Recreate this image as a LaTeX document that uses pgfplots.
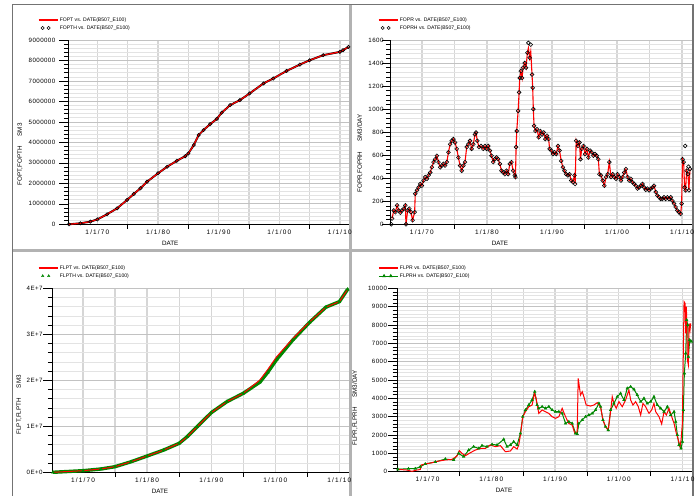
\documentclass[border=0pt]{standalone}
\usepackage{fontspec}
\setmainfont{Liberation Sans}
\newfontfamily\ytf[LetterSpace=7]{Liberation Sans}
\newfontfamily\xtf[LetterSpace=18]{Liberation Sans}
\usepackage{pgfplots}
\pgfplotsset{compat=1.18}
\usepackage{pgfplotstable}
\definecolor{hred}{RGB}{255,0,0}
\definecolor{hgreen}{RGB}{0,135,0}

\pgfplotstableread{
year fopt
1965.30 0
1967.20 50000
1968.85 130000
1970.00 240000
1971.60 490000
1973.25 780000
1974.90 1190000
1976.00 1480000
1977.10 1760000
1978.20 2080000
1980.00 2490000
1981.50 2810000
1983.10 3100000
1984.50 3330000
1985.00 3460000
1985.90 3870000
1986.70 4360000
1987.50 4600000
1988.60 4890000
1989.70 5150000
1990.50 5450000
1991.90 5820000
1993.50 6060000
1995.10 6390000
1997.40 6880000
1999.00 7120000
2001.20 7490000
2003.40 7800000
2005.00 8010000
2007.25 8260000
2010.00 8420000
2010.50 8500000
2011.40 8660000
}\tltab

\pgfplotstableread{
year fopr foprh
1965.30 nan 0
1965.41 50 50
1965.67 120 120
1965.92 105 105
1966.18 165 165
1966.43 120 120
1966.69 100 100
1966.94 120 120
1967.20 135 135
1967.45 165 165
1967.55 0 0
1967.81 120 120
1968.06 135 135
1968.32 105 105
1968.57 35 35
1968.88 105 105
1968.98 265 265
1969.24 295 295
1969.49 320 320
1969.75 350 350
1970.00 335 335
1970.26 380 380
1970.51 410 410
1970.77 395 395
1971.02 425 425
1971.28 450 450
1971.53 495 495
1971.79 540 540
1972.04 565 565
1972.30 595 595
1972.55 540 540
1972.81 495 495
1973.06 510 510
1973.32 525 525
1973.57 510 510
1973.83 540 540
1974.08 625 625
1974.34 695 695
1974.59 725 725
1974.85 740 740
1975.10 710 710
1975.36 655 655
1975.61 580 580
1975.87 510 510
1976.12 465 465
1976.38 510 510
1976.63 540 540
1976.89 670 670
1977.14 695 695
1977.40 725 725
1977.65 655 655
1977.91 695 695
1978.16 780 780
1978.32 797 797
1978.52 725 725
1978.78 670 670
1979.08 680 680
1979.44 655 655
1979.69 680 680
1979.95 655 655
1980.20 680 680
1980.46 640 640
1980.71 595 595
1980.97 540 540
1981.22 565 565
1981.48 580 580
1981.73 565 565
1981.99 525 525
1982.24 465 465
1982.50 450 450
1982.76 435 435
1983.01 465 465
1983.27 435 435
1983.52 525 525
1983.78 540 540
1984.03 465 465
1984.29 425 425
1984.39 410 410
1984.49 670 670
1984.59 810 810
1984.80 985 985
1984.95 1145 1145
1985.05 1270 1270
1985.21 1330 1330
1985.41 1270 1270
1985.56 1360 1360
1985.82 1400 1400
1986.02 1360 1360
1986.23 1490 1490
1986.38 1530 1575
1986.58 1445 1445
1986.74 1500 1560
1986.94 1300 1300
1987.04 1185 1185
1987.14 1000 1000
1987.25 855 855
1987.45 810 810
1987.71 825 825
1987.96 755 755
1988.22 810 810
1988.47 780 780
1988.73 797 797
1988.98 740 740
1989.24 770 770
1989.49 740 740
1989.65 655 655
1989.90 640 640
1990.16 610 610
1990.41 625 625
1990.67 610 610
1990.92 680 680
1991.17 640 640
1991.43 550 550
1991.68 495 495
1991.94 465 465
1992.19 435 435
1992.45 425 425
1992.71 435 435
1992.96 380 380
1993.22 365 365
1993.47 425 425
1993.57 350 350
1993.73 725 725
1993.98 680 680
1994.24 710 710
1994.39 565 565
1994.59 655 655
1994.85 680 680
1995.10 610 610
1995.36 655 655
1995.61 580 580
1995.87 640 640
1996.12 625 625
1996.38 595 595
1996.63 610 610
1996.89 595 595
1997.14 565 565
1997.30 435 435
1997.55 425 425
1997.81 380 380
1998.06 335 335
1998.32 410 410
1998.57 435 435
1998.83 540 540
1999.08 410 410
1999.34 435 435
1999.59 410 410
1999.85 395 395
2000.10 435 435
2000.36 410 410
2000.61 380 380
2000.87 410 410
2001.12 450 450
2001.38 480 480
2001.63 410 410
2001.89 380 380
2002.14 395 395
2002.40 365 365
2002.65 350 350
2002.91 335 335
2003.16 310 310
2003.42 320 320
2003.67 335 335
2003.93 350 350
2004.18 320 320
2004.44 300 300
2004.69 310 310
2004.95 295 295
2005.20 310 310
2005.46 320 320
2005.71 335 335
2005.97 280 280
2006.22 250 250
2006.48 235 235
2006.73 220 220
2006.99 220 220
2007.24 235 235
2007.50 220 220
2007.76 235 235
2008.01 220 220
2008.27 235 235
2008.52 205 205
2008.78 180 180
2009.03 150 150
2009.29 120 120
2009.54 105 105
2009.80 90 90
2009.95 180 180
2010.10 565 565
2010.26 540 540
2010.41 320 320
2010.50 nan 680
2010.56 295 295
2010.72 465 465
2010.92 435 435
2011.00 nan 500
2011.07 295 295
2011.23 480 480
}\trtab

\pgfplotstableread{
year flpt flpth
1965.30 0 0
1970.00 350000 350000
1972.80 720000 720000
1975.00 1220000 1220000
1977.50 2300000 2300000
1980.00 3540000 3540000
1982.60 4850000 4850000
1985.00 6300000 6300000
1986.25 7740000 7740000
1987.80 9900000 9900000
1990.00 12960000 12960000
1992.45 15350000 15350000
1995.00 17170000 17170000
1997.60 20070000 19600000
1998.80 22300000 21700000
2000.20 25100000 24500000
2002.75 29100000 28800000
2005.35 32700000 32600000
2007.90 35900000 35900000
2010.00 37100000 37100000
2011.30 39800000 39800000
}\bltab

\pgfplotstableread{
year flpr
1965.34 130
1966.75 90
1967.54 20
1968.32 90
1968.85 120
1969.00 365
1969.63 420
1970.68 490
1971.73 580
1972.78 640
1973.83 670
1974.61 855
1974.98 1150
1975.40 1000
1975.92 870
1976.71 1035
1977.49 1180
1978.28 1270
1979.07 1270
1979.85 1455
1980.64 1365
1981.43 1420
1982.21 1090
1983.00 1130
1983.52 1365
1984.05 1235
1984.31 1455
1984.57 2000
1984.94 3000
1985.36 3270
1985.88 3545
1986.40 3635
1986.77 4270
1987.03 4000
1987.45 3180
1987.98 3365
1988.50 3270
1989.03 3180
1989.55 2995
1990.07 2910
1990.60 3000
1991.12 3455
1991.65 3000
1992.17 2635
1992.69 2545
1993.11 2090
1993.48 2180
1993.64 5090
1994.00 4180
1994.27 4360
1994.53 4090
1994.89 3635
1995.58 3580
1996.10 3635
1996.63 3765
1997.15 3545
1997.52 2820
1997.93 2455
1998.35 2270
1998.72 3270
1998.98 4090
1999.24 3725
1999.61 3455
2000.03 3820
2000.55 3545
2001.08 3910
2001.60 4455
2001.87 3910
2002.23 3635
2002.65 3820
2003.07 3545
2003.44 3090
2003.80 3725
2004.22 3545
2004.75 3180
2005.17 3365
2005.53 3725
2005.80 3270
2006.32 3000
2006.74 2600
2007.11 3270
2007.47 3090
2007.89 3455
2008.31 3000
2008.68 2635
2009.04 2090
2009.36 1725
2009.62 1365
2009.78 1725
2009.99 2635
2010.09 5365
2010.25 9270
2010.41 9180
2010.51 7545
2010.62 9000
2010.77 6090
2010.93 5820
2011.04 8090
2011.19 7725
2011.30 8090
}\brtab

\pgfplotstableread{
year flprh
1965.34 130
1967.01 165
1968.06 165
1968.85 270
1969.63 420
1971.21 530
1972.78 690
1974.09 640
1974.87 1000
1975.66 820
1976.45 1180
1977.23 1365
1978.02 1270
1978.54 1420
1979.33 1365
1980.12 1490
1980.90 1455
1981.95 1765
1982.47 1365
1983.00 1455
1983.52 1635
1984.05 1455
1984.57 2090
1984.94 3000
1985.36 3365
1985.88 3635
1986.40 3910
1986.82 4360
1987.19 3635
1987.45 3455
1987.98 3545
1988.50 3455
1989.03 3545
1989.55 3365
1990.07 3270
1990.60 3270
1991.12 3180
1991.65 2635
1992.17 2725
1992.69 2635
1993.22 2090
1993.48 2055
1993.74 2635
1994.27 2820
1994.79 3000
1995.31 3090
1995.84 3180
1996.36 3365
1996.89 3725
1997.15 3545
1997.52 2820
1997.93 2455
1998.35 2270
1998.72 3365
1999.24 3725
1999.77 4090
2000.29 4270
2000.82 3910
2001.34 4545
2001.87 4635
2002.39 4490
2002.91 4180
2003.44 3820
2003.96 4000
2004.48 3725
2005.01 3820
2005.53 4090
2006.06 3635
2006.58 3455
2007.11 3270
2007.63 3545
2008.15 3090
2008.68 3270
2008.94 2725
2009.20 2000
2009.46 1455
2009.78 1270
2009.99 1635
2010.14 3365
2010.30 5365
2010.51 6455
2010.67 8270
2010.83 8000
2010.93 6270
2011.14 7180
2011.40 7090
}\brhtab

\pgfplotsset{
  panel/.style={
    scale only axis,
    clip=false,
    scaled x ticks=false,
    scaled y ticks=false,
    axis x line*=bottom,
    axis y line*=left,
    axis line style={black, line width=0.8bp, -},
    xmin=1965.2, xmax=2011.5,
    xtick={1970,1980,1990,2000,2010},
    xticklabels={1/1/70,1/1/80,1/1/90,1/1/00,1/1/10},
    minor xtick={1975,1985,1995,2005},
    minor y tick num=4,
    grid=both,
    major x grid style={black!16, line width=1.3bp},
    minor x grid style={black!16, line width=1.3bp},
    major y grid style={black!24, line width=0.7bp},
    minor y grid style={black!11, line width=0.7bp},
    tick align=outside,
    major tick length=9bp,
    minor tick length=4.5bp,
    every tick/.style={black, line width=0.6bp},
    every major x tick/.append style={draw=none},
    /pgf/number format/assume math mode=true,
    xticklabel style={font=\xtf\fontsize{6.5}{7}\selectfont, inner sep=1bp, yshift=5bp},
    yticklabel style={font=\ytf\fontsize{6.2}{7}\selectfont, inner sep=1.5bp},
    xlabel=DATE,
    xlabel style={font=\fontsize{6.5}{7}\selectfont, anchor=center, at={(axis description cs:0.363,-0.101)}},
    label style={font=\fontsize{6.3}{7}\selectfont},
    legend cell align=left,
    legend style={draw=none, fill=none, inner sep=0pt, outer sep=0pt, anchor=west,
      font=\fontsize{5.1}{6}\selectfont,
      nodes={inner sep=0.5bp, text height=3.7bp, text depth=0.3bp},
      /tikz/row sep=3bp, /tikz/column sep=1bp},
  },
}

\begin{document}
\begin{tikzpicture}
\path[use as bounding box] (0,0) rectangle (699bp,496bp);
\fill[white] (0,0) rectangle (699bp,496bp);
\draw[black!30, line width=3bp] (350.5bp,0bp) -- (350.5bp,491.7bp);
\draw[black!30, line width=3bp] (12.3bp,245bp) -- (693bp,245bp);
\draw[black!55, line width=1.2bp] (12.3bp,0bp) -- (12.3bp,491.7bp) -- (693bp,491.7bp) -- (693bp,0bp);

% ---------------- top left
\begin{axis}[panel, at={(68.3bp,271.7bp)}, anchor=south west,
  width=280.7bp, height=184.3bp,
  ymin=0, ymax=9000000,
  ytick={0,1000000,2000000,3000000,4000000,5000000,6000000,7000000,8000000,9000000},
  yticklabels={0,1000000,2000000,3000000,4000000,5000000,6000000,7000000,8000000,9000000},
  yticklabel style={xshift=-2.3bp},
  ylabel={FOPT,FOPTH\hspace{10bp}SM3},
  ylabel style={at={(axis description cs:-0.172,0.379)}, anchor=center},
  legend style={at={(axis description cs:-0.108,1.087)}},
]
\addplot[black, line width=1.9bp, mark=o, mark size=1.7bp, mark options={line width=0.55bp, solid}, forget plot] table[x=year, y=fopt] {\tltab};
\addplot[hred, line width=1.2bp, forget plot] table[x=year, y=fopt] {\tltab};
\addlegendimage{legend image code/.code={\draw[hred, line width=1.3bp] (0bp,0bp) -- (19bp,0bp);}}
\addlegendentry{FOPT vs. DATE(B507\_E100)}
\addlegendimage{legend image code/.code={\draw[black, line width=0.55bp] (4bp,0bp) circle (1.6bp) (10bp,0bp) circle (1.6bp);}}
\addlegendentry{FOPTH vs. DATE(B507\_E100)}
\end{axis}

% ---------------- top right
\begin{axis}[panel, at={(390.7bp,271.7bp)}, anchor=south west,
  width=301bp, height=184.3bp,
  ymin=0, ymax=1600,
  ytick={0,200,400,600,800,1000,1200,1400,1600},
  yticklabels={0,200,400,600,800,1000,1200,1400,1600},
  yticklabel style={xshift=3.5bp},
  ylabel={FOPR,FOPRH\hspace{10bp}SM3/DAY},
  ylabel style={at={(axis description cs:-0.102,0.384)}, anchor=center},
  legend style={at={(axis description cs:-0.042,1.087)}},
]
\addplot[black, only marks, mark=o, mark size=1.9bp, mark options={line width=0.6bp}, forget plot] table[x=year, y=foprh] {\trtab};
\addplot[hred, line width=1.1bp, forget plot] table[x=year, y=fopr] {\trtab};
\addlegendimage{legend image code/.code={\draw[hred, line width=1.3bp] (0bp,0bp) -- (19bp,0bp);}}
\addlegendentry{FOPR vs. DATE(B507\_E100)}
\addlegendimage{legend image code/.code={\draw[black, line width=0.55bp] (4bp,0bp) circle (1.6bp) (10bp,0bp) circle (1.6bp);}}
\addlegendentry{FOPRH vs. DATE(B507\_E100)}
\end{axis}

% ---------------- bottom left
\begin{axis}[panel, at={(52.3bp,23.7bp)}, anchor=south west,
  width=296.7bp, height=184bp,
  ymin=0, ymax=40000000,
  ytick={0,10000000,20000000,30000000,40000000},
  yticklabels={0E+0,1E+7,2E+7,3E+7,4E+7},
  yticklabel style={xshift=1bp},
  ylabel={FLPT,FLPTH\hspace{10bp}SM3},
  ylabel style={at={(axis description cs:-0.112,0.367)}, anchor=center},
  legend style={at={(axis description cs:-0.048,1.0886)}},
]
\addplot[hgreen, line width=3.4bp, mark=triangle*, mark size=1.8bp, mark options={solid, line width=0.3bp}, forget plot] table[x=year, y=flpth] {\bltab};
\addplot[hred, line width=1bp, forget plot] table[x=year, y=flpt] {\bltab};
\addlegendimage{legend image code/.code={\draw[hred, line width=1.3bp] (0bp,0bp) -- (19bp,0bp);}}
\addlegendentry{FLPT vs. DATE(B507\_E100)}
\addlegendimage{legend image code/.code={\draw[hgreen, only marks, mark=triangle*, mark size=1.4bp] plot coordinates {(4bp,0bp) (10bp,0bp)};}}
\addlegendentry{FLPTH vs. DATE(B507\_E100)}
\end{axis}

% ---------------- bottom right
\begin{axis}[panel, at={(397bp,24.3bp)}, anchor=south west,
  width=295bp, height=183.4bp,
  ymin=0, ymax=10000,
  ytick={0,1000,2000,3000,4000,5000,6000,7000,8000,9000,10000},
  yticklabels={0,1000,2000,3000,4000,5000,6000,7000,8000,9000,10000},
  yticklabel style={xshift=0.7bp},
  ylabel={FLPR,FLPRH\hspace{10bp}SM3/DAY},
  ylabel style={at={(axis description cs:-0.142,0.347)}, anchor=center},
  legend style={at={(axis description cs:-0.064,1.089)}},
]
\addplot[hgreen, line width=1bp, mark=triangle*, mark size=1.6bp, mark options={solid, line width=0.3bp}, forget plot] table[x=year, y=flprh] {\brhtab};
\addplot[hred, line width=1bp, forget plot] table[x=year, y=flpr] {\brtab};
\addlegendimage{legend image code/.code={\draw[hred, line width=1.3bp] (0bp,0bp) -- (19bp,0bp);}}
\addlegendentry{FLPR vs. DATE(B507\_E100)}
\addlegendimage{legend image code/.code={\draw[hgreen, line width=0.8bp, mark=triangle*, mark size=1.4bp, mark indices={2,3}] plot coordinates {(0bp,0bp) (5.3bp,0bp) (12bp,0bp) (19bp,0bp)};}}
\addlegendentry{FLPRH vs. DATE(B507\_E100)}
\end{axis}
\end{tikzpicture}
\end{document}
